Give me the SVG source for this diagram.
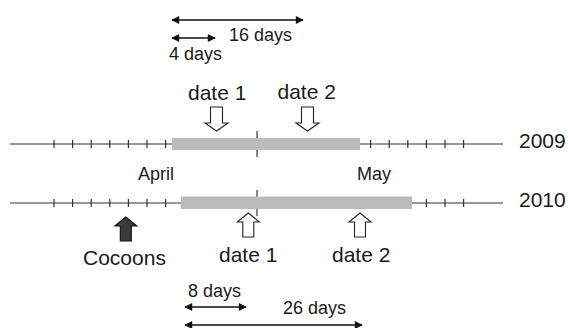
<svg xmlns="http://www.w3.org/2000/svg" width="568" height="328" viewBox="0 0 568 328">
<style>
text{font-family:"Liberation Sans",Arial,sans-serif;fill:#1a1a1a}
.big{font-size:21px}
.sm{font-size:18px}
.axis{stroke:#333;stroke-width:1.2;fill:none}
.tick{stroke:#333;stroke-width:1.2}
.bar{fill:#bbbbbb}
.dim{stroke:#111;stroke-width:1.6;fill:none;marker-start:url(#ah);marker-end:url(#ah)}
.hollow{fill:#fff;stroke:#222;stroke-width:1.1}
.solid{fill:#3a3a3a;stroke:#111;stroke-width:1.1}
</style>
<defs>
<marker id="ah" viewBox="0 0 10 10" refX="9" refY="5" markerWidth="9" markerHeight="8" markerUnits="userSpaceOnUse" orient="auto-start-reverse">
<path d="M0,0 L10,5 L0,10 z" fill="#111"/>
</marker>
<path id="down" d="M-6,0 H6 V16 H11.5 L0,24 L-11.5,16 H-6 Z"/>
<path id="up" d="M-5.5,0 H5.5 V-15 H11 L0,-24 L-11,-15 H-5.5 Z"/>
</defs>

<g id="connectors">
<line class="dim" x1="172" y1="20" x2="303" y2="20"/>
<line class="dim" x1="172" y1="38" x2="215" y2="38"/>
<line class="dim" x1="185" y1="307" x2="246" y2="307"/>
<line class="dim" x1="185" y1="325" x2="362" y2="325"/>
</g>

<g id="timeline-2009">
<line class="axis" x1="10" y1="144" x2="503" y2="144"/>
<path class="tick" d="M54,140v8M72.6,140v8M91.2,140v8M109.8,140v8M128.4,140v8M147,140v8M165.6,140v8M370.6,140v8M389.2,140v8M407.8,140v8M426.4,140v8M445,140v8M463.6,140v8"/>
<line class="tick" x1="257" y1="131" x2="257" y2="157"/>
<rect class="bar" x="172" y="138" width="188" height="12"/>
<text class="big" x="519" y="148">2009</text>
</g>

<g id="timeline-2010">
<line class="axis" x1="10" y1="203" x2="503" y2="203"/>
<path class="tick" d="M54,199v8M72.6,199v8M91.2,199v8M109.8,199v8M128.4,199v8M147,199v8M165.6,199v8M426.4,199v8M445,199v8M463.6,199v8"/>
<line class="tick" x1="257" y1="190" x2="257" y2="216"/>
<rect class="bar" x="181" y="196.5" width="231" height="12.5"/>
<text class="big" x="519" y="207">2010</text>
</g>

<g id="month-labels">
<text class="sm" x="138" y="180">April</text>
<text class="sm" x="357" y="180">May</text>
</g>

<g id="date1-2009">
<use href="#down" class="hollow" x="216.5" y="107"/>
<text class="big" x="188" y="100">date 1</text>
</g>
<g id="date2-2009">
<use href="#down" class="hollow" x="307.5" y="107"/>
<text class="big" x="277.5" y="99">date 2</text>
</g>

<g id="cocoons">
<use href="#up" class="solid" x="125.8" y="241"/>
<text class="big" x="83" y="265">Cocoons</text>
</g>
<g id="date1-2010">
<use href="#up" class="hollow" x="248.3" y="237"/>
<text class="big" x="219" y="262">date 1</text>
</g>
<g id="date2-2010">
<use href="#up" class="hollow" x="360" y="237"/>
<text class="big" x="332" y="262">date 2</text>
</g>

<g id="dim-labels">
<text class="sm" x="229" y="41">16 days</text>
<text class="sm" x="169" y="60">4 days</text>
<text class="sm" x="188" y="297">8 days</text>
<text class="sm" x="283" y="314">26 days</text>
</g>
</svg>
